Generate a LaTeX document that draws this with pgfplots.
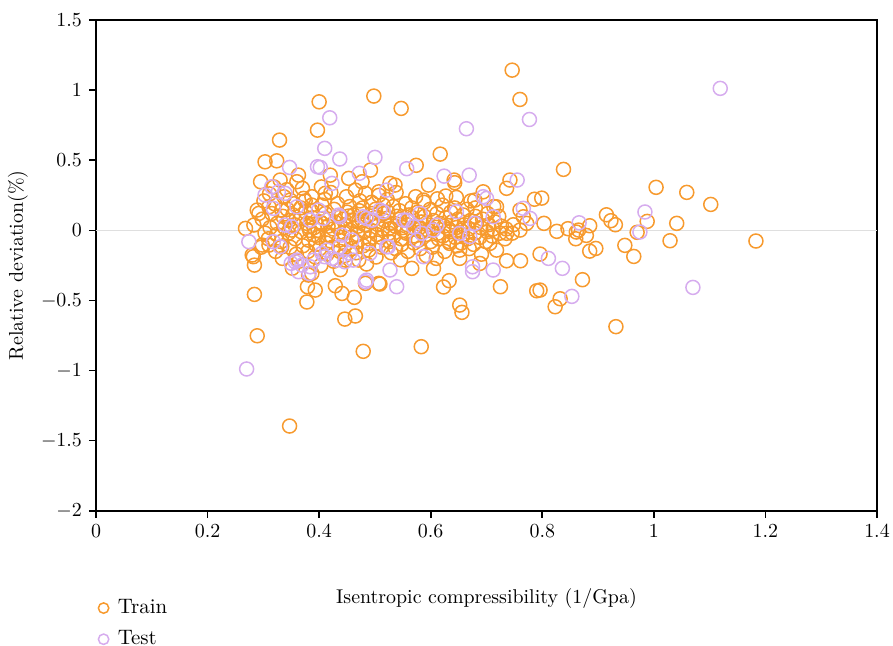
\documentclass[border=0pt]{standalone}
\usepackage{pgfplots}
\pgfplotsset{compat=1.18}

\definecolor{trainc}{RGB}{247,154,46}
\definecolor{testc}{RGB}{214,172,238}

\begin{document}
\begin{tikzpicture}
\begin{axis}[
  scale only axis,
  width=390.5bp, height=245.3bp,
  xmin=0, xmax=1.4, ymin=-2, ymax=1.5,
  xtick={0,0.2,...,1.4},
  ytick={-2,-1.5,...,1.5},
  tick align=outside,
  xtick pos=bottom, ytick pos=left,
  major tick length=3.5bp,
  axis line style={line width=0.8bp},
  every tick/.style={black, line width=0.8bp},
  tick label style={font=\fontsize{10}{12}\selectfont},
  label style={font=\fontsize{10.5}{12}\selectfont},
  xlabel={Isentropic compressibility (1/Gpa)},
  ylabel={Relative deviation(\%)},
  every axis x label/.style={at={(axis description cs:0.5,-0.178)}, anchor=center},
  every axis y label/.style={at={(axis description cs:-0.0999,0.5)}, rotate=90, anchor=center},
  legend cell align=left,
  legend style={at={(axis description cs:0,-0.17)}, anchor=north west, xshift=1bp,
    draw=none, fill=none, inner sep=0pt, row sep=2bp,
    font=\fontsize{10.5}{12}\selectfont,
    nodes={inner sep=2.5bp},
    /tikz/every odd column/.append style={column sep=2bp}},
  legend image code/.code={\draw[#1, mark size=2.6bp] plot coordinates {(0bp,0bp)};},
  clip=false,
]
\addplot[forget plot, gray!25, line width=0.8bp] coordinates {(0,0) (1.4,0)};

% Train
\addplot[only marks, mark=o, mark size=3.5bp, trainc, line width=0.75bp] coordinates {
(0.746,1.143)(0.760,0.934)(0.498,0.958)(0.547,0.870)(0.400,0.917)(0.397,0.715)(0.329,0.644)
(0.617,0.544)(0.574,0.464)(0.303,0.489)(0.324,0.496)(0.838,0.435)(1.004,0.307)(1.059,0.271)
(1.102,0.185)(1.183,-0.076)(1.041,0.050)(1.029,-0.074)(0.988,0.064)(0.970,-0.014)(0.964,-0.186)
(0.948,-0.107)(0.932,-0.687)(0.915,0.111)(0.923,0.069)(0.931,0.040)(0.885,0.033)(0.879,-0.036)
(0.861,-0.012)(0.860,-0.060)(0.865,0.002)(0.885,-0.148)(0.896,-0.129)(0.846,0.012)(0.826,-0.007)
(0.803,0.050)(0.799,0.230)(0.786,0.222)(0.872,-0.352)(0.832,-0.488)(0.823,-0.545)(0.796,-0.426)(0.796,-0.169)
(0.284,-0.457)(0.289,-0.752)(0.347,-1.396)(0.479,-0.863)(0.583,-0.830)(0.446,-0.633)(0.465,-0.611)
(0.378,-0.511)(0.429,-0.395)(0.441,-0.450)(0.463,-0.478)(0.379,-0.402)(0.393,-0.426)(0.652,-0.533)
(0.656,-0.585)(0.623,-0.404)(0.633,-0.359)(0.725,-0.402)(0.790,-0.431)(0.284,-0.248)(0.282,-0.188)
(0.483,-0.378)(0.509,-0.383)(0.761,-0.217)(0.736,-0.217)
(0.492,0.430)(0.363,0.394)(0.360,0.347)(0.295,0.347)(0.330,0.359)(0.420,0.394)(0.453,0.371)
(0.477,0.347)(0.348,0.216)(0.372,0.228)(0.387,0.240)(0.411,0.264)(0.465,0.287)(0.483,0.264)
(0.507,0.275)(0.289,0.145)(0.292,0.121)(0.310,0.168)(0.333,0.145)(0.387,0.180)(0.453,0.102)
(0.477,0.073)(0.268,0.014)(0.283,0.038)(0.298,-0.105)(0.310,-0.105)(0.351,0.002)(0.381,0.026)
(0.405,0.050)(0.417,-0.034)(0.489,-0.093)(0.280,-0.176)(0.333,-0.117)(0.447,-0.212)(0.471,-0.212)
(0.381,-0.319)(0.387,-0.307)(0.507,-0.378)
(0.642,0.359)(0.643,0.340)(0.742,0.359)(0.736,0.300)(0.596,0.323)(0.527,0.335)(0.536,0.323)
(0.646,0.235)(0.679,0.216)(0.694,0.275)(0.718,0.168)(0.760,0.145)(0.766,0.097)(0.772,0.050)
(0.760,0.002)(0.736,-0.021)(0.688,-0.236)(0.652,-0.200)(0.566,-0.271)(0.605,-0.271)(0.634,-0.093)
(0.652,-0.141)(0.706,-0.093)(0.718,-0.141)(0.587,0.216)(0.612,0.225)(0.627,0.245)(0.672,0.210)(0.680,0.160)
(0.298,0.08)(0.303,-0.02)(0.301,0.21)(0.296,-0.12)
(0.312,0.02)(0.309,-0.06)(0.315,0.12)(0.311,0.26)
(0.322,-0.15)(0.325,0.05)(0.320,0.19)(0.324,-0.03)(0.319,0.31)
(0.335,0.10)(0.332,-0.08)(0.337,0.24)(0.334,-0.20)(0.338,0.02)
(0.345,-0.02)(0.343,0.15)(0.348,-0.12)(0.346,0.07)(0.342,0.29)
(0.356,0.04)(0.359,-0.17)(0.353,0.11)(0.357,-0.06)(0.355,0.19)(0.352,-0.27)
(0.368,-0.01)(0.366,0.08)(0.371,-0.11)(0.367,0.16)(0.364,-0.22)(0.370,0.30)
(0.378,0.05)(0.381,-0.07)(0.376,0.13)(0.380,-0.15)(0.375,0.21)(0.383,0.00)
(0.390,-0.03)(0.388,0.09)(0.393,-0.19)(0.391,0.02)(0.386,0.14)(0.394,-0.10)
(0.402,0.06)(0.399,-0.05)(0.405,0.18)(0.401,-0.13)(0.404,0.31)(0.398,0.00)(0.403,-0.25)
(0.413,-0.09)(0.416,0.03)(0.411,0.12)(0.414,-0.17)(0.410,0.22)(0.417,0.08)
(0.425,0.01)(0.422,-0.04)(0.427,0.15)(0.424,-0.12)(0.428,0.06)(0.421,0.27)(0.426,-0.22)
(0.436,-0.07)(0.439,0.10)(0.434,0.02)(0.437,-0.15)(0.433,0.19)(0.438,-0.28)
(0.447,0.04)(0.445,-0.02)(0.450,0.13)(0.448,-0.10)(0.444,0.08)(0.449,0.24)(0.446,-0.18)
(0.458,-0.05)(0.461,0.07)(0.456,0.00)(0.459,-0.13)(0.455,0.17)(0.462,0.11)
(0.470,0.03)(0.467,-0.08)(0.472,0.14)(0.469,-0.03)(0.473,0.21)(0.466,-0.16)(0.471,0.06)
(0.481,-0.01)(0.484,0.09)(0.479,-0.11)(0.482,0.04)(0.478,0.16)(0.485,-0.24)
(0.492,0.06)(0.490,-0.06)(0.495,0.12)(0.493,0.00)(0.489,-0.14)(0.494,0.20)
(0.503,-0.03)(0.506,0.04)(0.501,0.15)(0.504,-0.09)(0.500,0.09)(0.507,0.25)(0.502,-0.19)
(0.514,0.01)(0.512,-0.12)(0.517,0.07)(0.515,0.18)(0.511,-0.05)(0.516,0.12)
(0.525,-0.02)(0.528,0.05)(0.523,0.13)(0.526,-0.08)(0.522,0.22)(0.529,-0.16)(0.524,0.01)
(0.536,0.03)(0.534,-0.04)(0.539,0.10)(0.537,-0.13)(0.533,0.17)(0.538,0.27)
(0.547,-0.06)(0.550,0.02)(0.545,0.08)(0.548,-0.10)(0.544,0.14)(0.551,0.00)(0.546,-0.21)
(0.558,0.04)(0.556,-0.02)(0.561,0.11)(0.559,-0.15)(0.555,0.19)(0.560,0.07)
(0.569,-0.04)(0.572,0.01)(0.567,0.09)(0.570,-0.09)(0.566,0.16)(0.573,0.24)
(0.580,0.02)(0.578,-0.07)(0.583,0.06)(0.581,-0.13)(0.577,0.13)(0.582,-0.01)
(0.591,-0.03)(0.594,0.04)(0.589,0.10)(0.592,-0.18)(0.588,0.20)(0.595,0.00)
(0.602,0.01)(0.600,-0.08)(0.605,0.07)(0.603,-0.12)(0.599,0.15)
(0.613,-0.02)(0.616,0.05)(0.611,0.12)(0.614,-0.06)(0.610,-0.20)
(0.624,0.03)(0.622,-0.04)(0.627,0.09)(0.625,-0.15)(0.621,0.18)
(0.635,-0.01)(0.638,0.06)(0.633,-0.08)(0.636,0.13)(0.632,0.01)
(0.646,0.02)(0.644,-0.05)(0.649,0.08)(0.647,-0.11)(0.643,0.16)
(0.657,-0.03)(0.660,0.04)(0.655,-0.09)(0.658,0.11)(0.654,0.00)
(0.668,0.01)(0.666,-0.06)(0.671,0.07)(0.669,-0.13)(0.665,0.15)
(0.679,-0.02)(0.682,0.05)(0.677,-0.10)(0.680,0.10)
(0.690,0.02)(0.688,-0.05)(0.693,0.08)(0.691,-0.17)
(0.701,-0.01)(0.704,0.04)(0.699,-0.08)(0.702,0.12)
(0.712,0.01)(0.710,-0.04)(0.715,0.06)(0.713,0.17)
(0.724,-0.02)(0.727,0.03)(0.722,0.10)
(0.735,0.01)(0.733,-0.06)
(0.748,0.04)(0.746,-0.02)
};
\addlegendentry{Train}

% Test
\addplot[only marks, mark=o, mark size=3.5bp, testc, line width=0.75bp] coordinates {
(1.119,1.013)(1.070,-0.407)(0.984,0.131)(0.975,-0.012)(0.866,0.054)(0.811,-0.200)(0.836,-0.271)
(0.853,-0.471)(0.777,0.791)(0.664,0.725)(0.419,0.803)(0.410,0.585)(0.437,0.509)(0.500,0.521)
(0.557,0.440)(0.669,0.394)(0.624,0.387)(0.755,0.359)(0.347,0.449)(0.397,0.454)(0.402,0.449)
(0.472,0.407)(0.270,-0.989)(0.539,-0.402)(0.675,-0.260)(0.675,-0.295)(0.712,-0.283)(0.350,-0.235)
(0.363,-0.295)(0.382,-0.307)(0.423,0.335)(0.315,0.311)(0.303,0.252)(0.327,0.275)(0.339,0.264)
(0.318,0.157)(0.360,0.168)(0.399,0.145)(0.435,0.109)(0.495,0.073)(0.274,-0.081)(0.339,0.038)
(0.441,-0.034)(0.459,-0.069)(0.357,-0.224)(0.384,-0.260)(0.405,-0.164)(0.423,-0.200)(0.483,-0.367)
(0.521,0.287)(0.700,0.228)(0.712,0.097)(0.766,0.157)(0.527,-0.283)(0.587,-0.188)(0.521,-0.117)
(0.652,-0.021)(0.670,-0.045)(0.569,0.026)(0.605,0.002)(0.581,0.121)(0.551,0.073)(0.509,0.145)
(0.646,0.133)(0.351,0.026)(0.384,0.073)(0.407,0.085)(0.437,0.097)(0.479,0.097)(0.485,0.085)
(0.515,0.133)(0.557,0.073)(0.584,-0.021)(0.611,0.038)(0.679,0.050)(0.694,0.240)(0.778,0.085)
(0.330,-0.117)(0.318,-0.081)(0.360,-0.212)(0.369,-0.248)(0.390,-0.212)(0.414,-0.141)(0.410,-0.188)
(0.437,-0.117)(0.431,-0.212)(0.446,-0.224)(0.461,-0.212)(0.455,-0.164)(0.491,-0.164)(0.524,-0.117)
(0.575,-0.069)(0.485,-0.355)
};
\addlegendentry{Test}
\end{axis}
\pgfresetboundingbox
\useasboundingbox (-48bp,-67.65bp) rectangle (398.5bp,255.35bp);
\end{tikzpicture}
\end{document}
